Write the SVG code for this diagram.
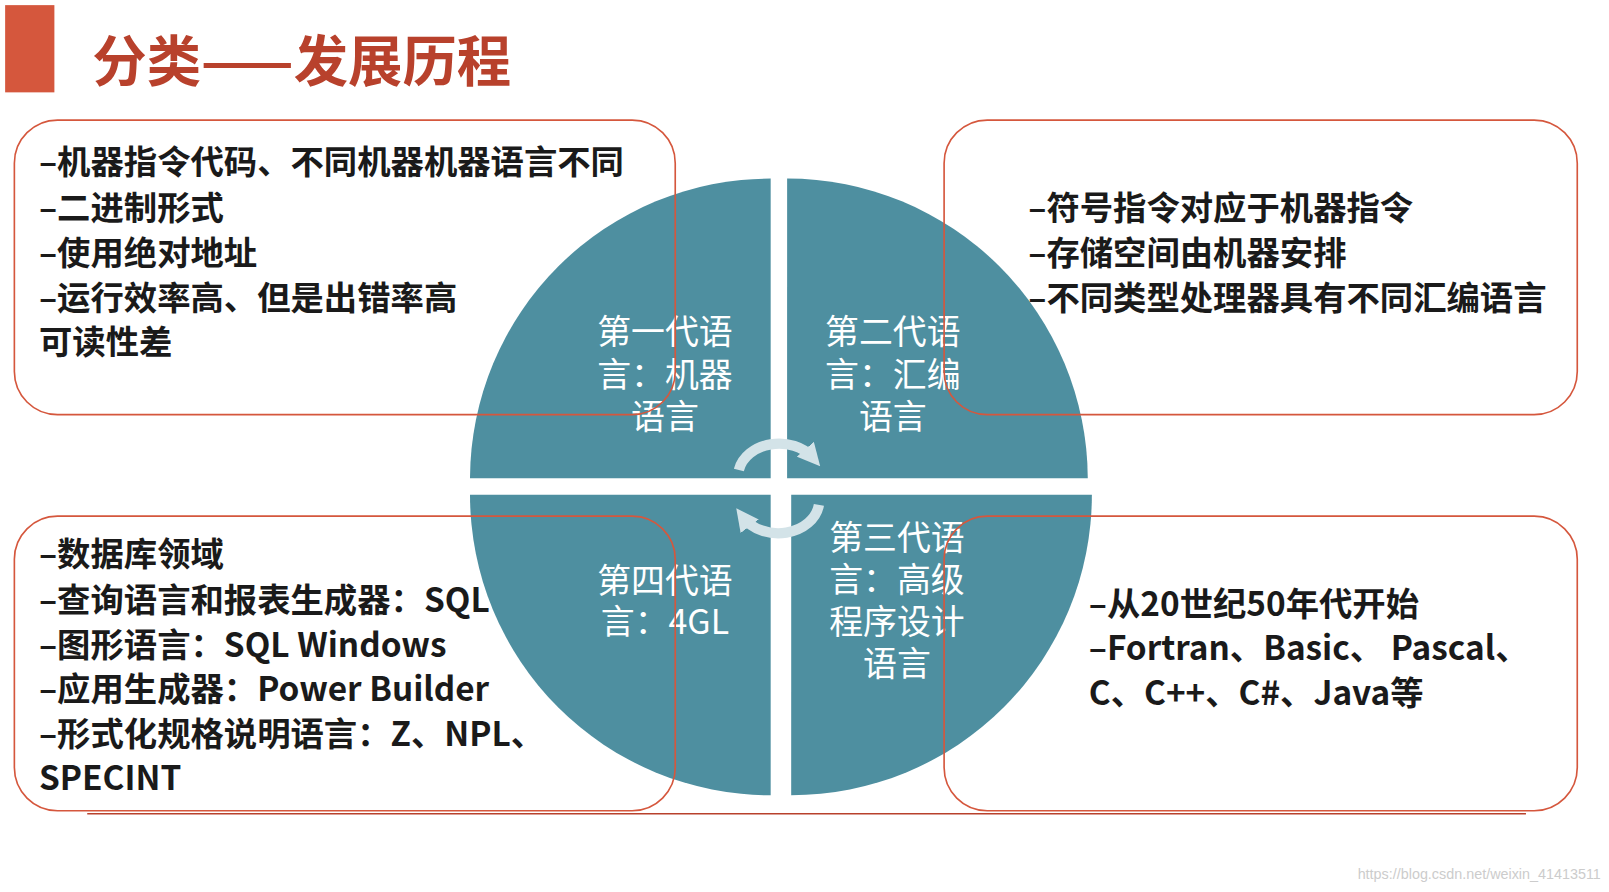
<svg xmlns="http://www.w3.org/2000/svg" width="1609" height="892" viewBox="0 0 1609 892">
<style>
.box{fill:none;stroke:#d5573d;stroke-width:1.6}
.bt{font-family:"Noto Sans CJK SC",sans-serif;font-weight:bold;font-size:32.5px;fill:#1a1a1a}
.ct{font-family:"Noto Sans CJK SC",sans-serif;font-size:33px;fill:#fff;text-anchor:middle}
.q{fill:#4e8fa0}
.arr2{fill:none;stroke:#d3e3e8;stroke-width:10}
</style>
<defs>
<marker id="ah" viewBox="0 0 10 10" refX="5" refY="5" markerWidth="2.2" markerHeight="2.2" orient="auto"><path d="M0,0 L10,5 L0,10 z" fill="#d3e3e8"/></marker>
</defs>
<rect width="1609" height="892" fill="#fff"/>
<g transform="scale(1.0262)">
<g id="title">
<rect x="5" y="5" width="48" height="85" fill="#d5573d"/>
<text x="90" y="79" font-family="Noto Sans CJK SC,sans-serif" font-weight="bold" font-size="53" fill="#b8412c">分类——发展历程</text>
</g>
<g id="pie">
<path class="q" d="M751,174 A293,293 0 0 0 458,466 L751,466 Z"/>
<path class="q" d="M767,174 A293,293 0 0 1 1060,466 L767,466 Z"/>
<path class="q" d="M458,482 A293,293 0 0 0 751,775 L751,482 Z"/>
<path class="q" d="M771,482 L1064,482 A293,293 0 0 1 771,775 Z"/>
</g>
<g id="cycle">
<path class="arr2" d="M720,458 A40,32 0 0 1 792,446" marker-end="url(#ah)"/>
<path class="arr2" d="M798,492 A40,32 0 0 1 724,504" marker-end="url(#ah)"/>
</g>
<g id="q1"><text class="ct" x="648" y="335">第一代语</text><text class="ct" x="648" y="377">言：机器</text><text class="ct" x="648" y="418">语言</text></g>
<g id="q2"><text class="ct" x="870" y="335">第二代语</text><text class="ct" x="870" y="377">言：汇编</text><text class="ct" x="870" y="418">语言</text></g>
<g id="q4"><text class="ct" x="648" y="578">第四代语</text><text class="ct" x="648" y="618">言：4GL</text></g>
<g id="q3"><text class="ct" x="874" y="536">第三代语</text><text class="ct" x="874" y="577">言：高级</text><text class="ct" x="874" y="618">程序设计</text><text class="ct" x="874" y="659">语言</text></g>
<g id="box1"><rect class="box" x="14" y="117" width="644" height="287" rx="42"/>
<text class="bt" x="38" y="170">–机器指令代码、不同机器机器语言不同</text>
<text class="bt" x="38" y="214">–二进制形式</text>
<text class="bt" x="38" y="258">–使用绝对地址</text>
<text class="bt" x="38" y="302">–运行效率高、但是出错率高</text>
<text class="bt" x="38" y="345">可读性差</text></g>
<g id="box2"><rect class="box" x="920" y="117" width="617" height="287" rx="42"/>
<text class="bt" x="1002" y="214">–符号指令对应于机器指令</text>
<text class="bt" x="1002" y="258">–存储空间由机器安排</text>
<text class="bt" x="1002" y="302">–不同类型处理器具有不同汇编语言</text></g>
<g id="box4"><rect class="box" x="14" y="503" width="644" height="287" rx="42"/>
<text class="bt" x="38" y="552">–数据库领域</text>
<text class="bt" x="38" y="596">–查询语言和报表生成器：SQL</text>
<text class="bt" x="38" y="640">–图形语言：SQL Windows</text>
<text class="bt" x="38" y="683">–应用生成器：Power Builder</text>
<text class="bt" x="38" y="727">–形式化规格说明语言：Z、NPL、</text>
<text class="bt" x="38" y="770">SPECINT</text></g>
<g id="box3"><rect class="box" x="920" y="503" width="617" height="287" rx="42"/>
<text class="bt" x="1061" y="600">–从20世纪50年代开始</text>
<text class="bt" x="1061" y="643">–Fortran、Basic、 Pascal、</text>
<text class="bt" x="1061" y="687">C、C++、C#、Java等</text></g>
<line x1="85" y1="793" x2="1487" y2="793" stroke="#b8412c" stroke-width="1.5"/>
<text x="1560" y="857" text-anchor="end" font-family="Liberation Sans,sans-serif" font-size="14" fill="#ccc">https://blog.csdn.net/weixin_41413511</text>
</g>
</svg>
